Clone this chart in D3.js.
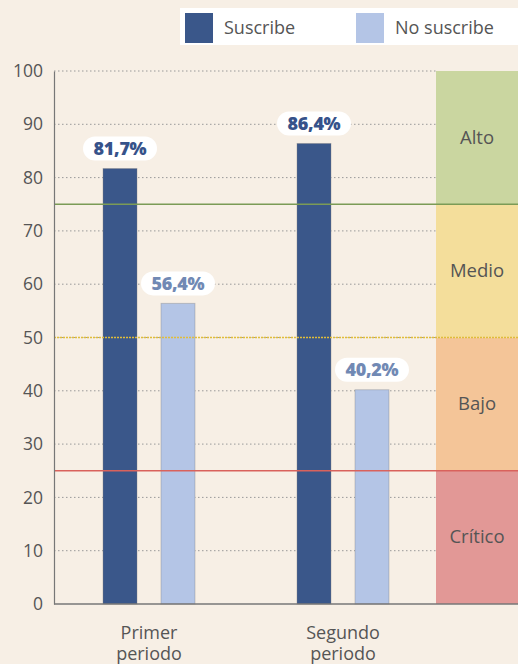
<!DOCTYPE html>
<html>
<head>
<meta charset="utf-8">
<script src="https://cdn.jsdelivr.net/npm/d3@7"></script>
<style>
  html, body { margin: 0; padding: 0; background: #f7efe5; }
  svg { display: block; font-family: "Open Sans", "Noto Sans", sans-serif; }
</style>
</head>
<body>
<div id="chart"></div>
<script>
// data
const periods = ["Primer periodo", "Segundo periodo"];
const seriesNames = ["Suscribe", "No suscribe"];
const suscribe = [81.7, 86.4];
const noSuscribe = [56.4, 40.2];
const yTicks = [0, 10, 20, 30, 40, 50, 60, 70, 80, 90, 100];
const bandNames = ["Crítico", "Bajo", "Medio", "Alto"];
const bandLimits = [0, 25, 50, 75, 100];

// 1) Dimensions
const width = 518;
const height = 664;
const margin = { top: 71, right: 0, bottom: 60, left: 54 };
const plotRight = 436; // where the bands start

const svg = d3.select("#chart")
  .append("svg")
  .attr("width", width)
  .attr("height", height);

svg.append("rect")
  .attr("width", width)
  .attr("height", height)
  .attr("fill", "#f7efe5");

// 2) Scales
const y = d3.scaleLinear().domain([0, 100]).range([height - margin.bottom, margin.top]);
const x0 = d3.scaleBand().domain(periods).range([52, 440]);
const x1 = d3.scaleBand().domain(seriesNames).range([0, x0.bandwidth()]).paddingInner(0.414).paddingOuter(0.88);
const color = d3.scaleOrdinal().domain(seriesNames).range(["#3a578a", "#b4c5e6"]);
const labelColor = d3.scaleOrdinal().domain(seriesNames).range(["#36528a", "#7189b4"]);

// 3) Bands on the right
const bandColor = d3.scaleOrdinal().domain(bandNames).range(["#e29896", "#f4c598", "#f4de9b", "#cad6a0"]);
const bands = bandNames.map((name, i) => ({ name, lo: bandLimits[i], hi: bandLimits[i + 1] }));

svg.selectAll(".band")
  .data(bands)
  .enter()
  .append("rect")
  .attr("x", plotRight)
  .attr("y", (d) => y(d.hi))
  .attr("width", width - plotRight)
  .attr("height", (d) => y(d.lo) - y(d.hi))
  .attr("fill", (d) => bandColor(d.name));

svg.selectAll(".band-label")
  .data(bands)
  .enter()
  .append("text")
  .attr("x", (plotRight + width) / 2)
  .attr("y", (d) => y((d.lo + d.hi) / 2) + 6)
  .attr("text-anchor", "middle")
  .attr("fill", "#555")
  .style("font-size", "18.5px")
  .text((d) => d.name);

// 4) Grid
svg.append("g")
  .selectAll("line")
  .data(yTicks.filter((t) => t > 0))
  .enter()
  .append("line")
  .attr("x1", margin.left)
  .attr("x2", plotRight)
  .attr("y1", (d) => y(d))
  .attr("y2", (d) => y(d))
  .attr("stroke", "#999")
  .attr("stroke-width", 1)
  .attr("stroke-dasharray", "1.5,2.5");

// 5) Bars
const groups = svg.selectAll(".period")
  .data(periods)
  .enter()
  .append("g")
  .attr("transform", (d) => `translate(${x0(d)},0)`);

const barData = (d, i) => [
  { key: "Suscribe", value: suscribe[i] },
  { key: "No suscribe", value: noSuscribe[i] }
];

groups.selectAll("rect")
  .data(barData)
  .enter()
  .append("rect")
  .attr("x", (d) => x1(d.key))
  .attr("y", (d) => y(d.value))
  .attr("width", x1.bandwidth())
  .attr("height", (d) => y(0) - y(d.value))
  .attr("fill", (d) => color(d.key))
  .attr("stroke", "rgba(120,120,120,0.35)")
  .attr("stroke-width", 1);

// 6) Threshold lines
const thresholds = [
  { v: 75, c: "#7b9b56", dash: null },
  { v: 50, c: "#e0bd3a", dash: "2,1" },
  { v: 25, c: "#d9625c", dash: null }
];
svg.selectAll(".thr")
  .data(thresholds)
  .enter()
  .append("line")
  .attr("x1", margin.left)
  .attr("x2", width)
  .attr("y1", (d) => y(d.v))
  .attr("y2", (d) => y(d.v))
  .attr("stroke", (d) => d.c)
  .attr("stroke-width", 1.6)
  .attr("stroke-dasharray", (d) => d.dash);

// 7) Value pills
const pills = groups.selectAll(".pill")
  .data(barData)
  .enter()
  .append("g")
  .attr("transform", (d) => `translate(${x1(d.key) + x1.bandwidth() / 2},${y(d.value) - 20})`);

pills.append("rect")
  .attr("x", -37)
  .attr("y", -12)
  .attr("width", 74)
  .attr("height", 24)
  .attr("rx", 12)
  .attr("fill", "#fff");

pills.append("text")
  .attr("text-anchor", "middle")
  .attr("y", 6.5)
  .attr("fill", (d) => labelColor(d.key))
  .style("font-size", "18px")
  .style("font-weight", "800")
  .style("letter-spacing", "-0.3px")
  .text((d) => d.value.toFixed(1).replace(".", ",") + "%");

// 8) Axes
const yAxis = svg.append("g")
  .attr("transform", `translate(${margin.left},0)`)
  .call(d3.axisLeft(y).tickValues(yTicks).tickSize(0).tickPadding(11));
yAxis.select(".domain").attr("stroke", "#777").attr("stroke-width", 1.2);
yAxis.selectAll("text")
  .attr("fill", "#555")
  .style("font-size", "17.5px")
  .style("font-family", "'Open Sans', 'Noto Sans', sans-serif");

svg.append("line")
  .attr("x1", margin.left)
  .attr("x2", width)
  .attr("y1", y(0))
  .attr("y2", y(0))
  .attr("stroke", "#777")
  .attr("stroke-width", 1.5);

// category labels (two lines)
svg.selectAll(".cat")
  .data(periods)
  .enter()
  .append("text")
  .attr("text-anchor", "middle")
  .attr("fill", "#555")
  .style("font-size", "18px")
  .each(function (d) {
    const parts = d.split(" ");
    const cx = x0(d) + x0.bandwidth() / 2;
    const t = d3.select(this);
    parts.forEach((p, i) => {
      t.append("tspan")
        .attr("x", cx)
        .attr("y", y(0) + 35 + i * 21)
        .text(p);
    });
  });

// 9) Legend
const legend = svg.append("g");
legend.append("rect")
  .attr("x", 180)
  .attr("y", 8)
  .attr("width", width - 180)
  .attr("height", 37)
  .attr("fill", "#fff");

const legendX = d3.scaleOrdinal().domain(seriesNames).range([185, 356]);
const items = legend.selectAll(".item")
  .data(seriesNames)
  .enter()
  .append("g")
  .attr("transform", (d) => `translate(${legendX(d)},13)`);

items.append("rect")
  .attr("width", 28)
  .attr("height", 30)
  .attr("fill", (d) => color(d));

items.append("text")
  .attr("x", 39)
  .attr("y", 21)
  .attr("fill", "#555")
  .style("font-size", "18px")
  .text((d) => d);
</script>
</body>
</html>
